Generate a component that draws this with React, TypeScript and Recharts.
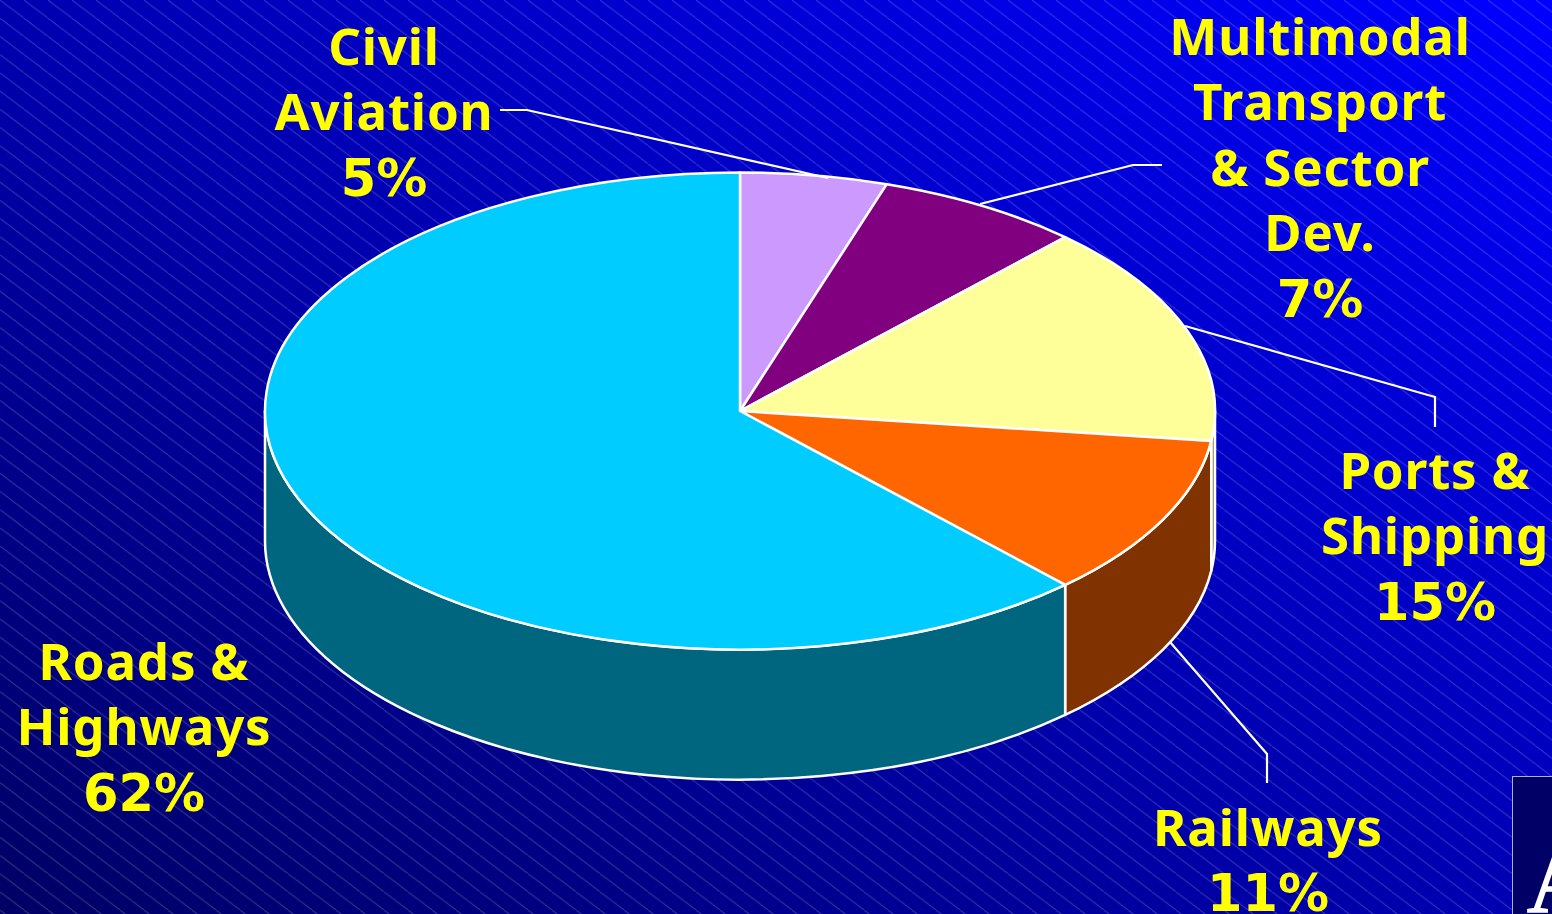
import { Pie, PieChart } from 'recharts';

const categories = ['Civil Aviation', 'Multimodal Transport & Sector Dev.', 'Ports & Shipping', 'Railways', 'Roads & Highways'];
const shares = [5, 7, 15, 11, 62];
const topColors = ['#cc99ff', '#800080', '#ffff99', '#ff6600', '#00ccff'];
const sideColors = ['#664c80', '#400040', '#80804c', '#803300', '#006680'];
const labelRows = [
  ['Civil', 'Aviation'],
  ['Multimodal', 'Transport', '& Sector', 'Dev.'],
  ['Ports &', 'Shipping'],
  ['Railways'],
  ['Roads &', 'Highways'],
];

const WIDTH = 1552;
const HEIGHT = 914;
const CX = 740;
const CY = 411;
const RX = 475;
const RY = 238.5;
const DEPTH = 130;
const ROW = 65.4;

// first baseline and centre of each label, then its leader line
const labelSpots = [
  { x: 384, y: 65, line: '500,110 527,110 828,178' },
  { x: 1320, y: 55, line: '1162,165 1133,165 980,204' },
  { x: 1435, y: 489, line: '1435,427 1435,397 1185,326' },
  { x: 1268, y: 846, line: '1267,783 1267,754 1170,642' },
  { x: 144, y: 680, line: '' },
];

const data = categories.map((name, i) => ({
  name,
  value: shares[i],
  fill: topColors[i],
  side: sideColors[i],
  rows: labelRows[i],
}));

const pt = (a: number, dy = 0) => {
  const r = (a * Math.PI) / 180;
  return `${CX + RX * Math.cos(r)} ${CY + dy - RY * Math.sin(r)}`;
};

const TopSlice = (props: any) => {
  const { startAngle, endAngle, fill } = props;
  const large = startAngle - endAngle > 180 ? 1 : 0;
  return (
    <path
      d={`M ${CX} ${CY} L ${pt(startAngle)} A ${RX} ${RY} 0 ${large} 1 ${pt(endAngle)} Z`}
      fill={fill}
      stroke="#fff"
      strokeWidth={2.5}
      strokeLinejoin="round"
    />
  );
};

// wall under the front half of the pie only
const SideSlice = (props: any) => {
  const { startAngle, endAngle, payload } = props;
  const hi = Math.min(startAngle, 0);
  const lo = Math.max(endAngle, -180);
  if (hi <= lo) return <g />;
  return (
    <path
      d={`M ${pt(hi)} A ${RX} ${RY} 0 0 1 ${pt(lo)} L ${pt(lo, DEPTH)} A ${RX} ${RY} 0 0 0 ${pt(hi, DEPTH)} Z`}
      fill={payload.side}
      stroke="#fff"
      strokeWidth={2.5}
      strokeLinejoin="round"
    />
  );
};

const SliceLabel = (props: any) => {
  const { index, value, payload } = props;
  const spot = labelSpots[index];
  const rows: string[] = payload.rows;
  const textProps = { textAnchor: 'middle' as const, fill: '#ffff00', fontWeight: 700, fontSize: 51 };
  return (
    <g>
      {spot.line && <polyline points={spot.line} fill="none" stroke="#fff" strokeWidth={2.2} />}
      {rows.map((row, i) => (
        <text key={row} x={spot.x} y={spot.y + i * ROW} fontFamily="'Noto Sans', sans-serif" letterSpacing={0.8} {...textProps}>
          {row}
        </text>
      ))}
      <text x={spot.x} y={spot.y + rows.length * ROW} fontFamily="'DejaVu Sans', sans-serif" {...textProps}>
        {`${value}%`}
      </text>
    </g>
  );
};

const Backdrop = () => (
  <svg width={WIDTH} height={HEIGHT} style={{ position: 'absolute', left: 0, top: 0 }}>
    <defs>
      <linearGradient id="bg" gradientUnits="userSpaceOnUse" x1={0} y1={914} x2={830} y2={-442}>
        <stop offset="0" stopColor="#000064" />
        <stop offset="1" stopColor="#0000ff" />
      </linearGradient>
      <pattern id="stripes" patternUnits="userSpaceOnUse" width={24} height={18.2}>
        <line x1={0} y1={0} x2={24} y2={18.2} stroke="#fff" strokeOpacity={0.2} strokeWidth={1} />
      </pattern>
    </defs>
    <rect width={WIDTH} height={HEIGHT} fill="url(#bg)" />
    <rect width={WIDTH} height={HEIGHT} fill="url(#stripes)" />
    <rect x={1512.5} y={776.5} width={60} height={160} fill="#000066" stroke="#b0b0c8" strokeWidth={1} />
    <text x={1527} y={912} fill="#fff" stroke="#fff" strokeWidth={1.5} fontFamily="'Liberation Serif', serif" fontSize={90}>
      A
    </text>
  </svg>
);

export default function App() {
  return (
    <div style={{ position: 'absolute', left: 0, top: 0, width: WIDTH, height: HEIGHT, overflow: 'hidden' }}>
      <Backdrop />
      <div style={{ position: 'absolute', left: 0, top: 0 }}>
        <PieChart width={WIDTH} height={HEIGHT} margin={{ top: 0, right: 0, bottom: 0, left: 0 }}>
          <Pie
            data={data}
            dataKey="value"
            nameKey="name"
            cx={CX}
            cy={CY}
            outerRadius={RX}
            startAngle={90}
            endAngle={-270}
            shape={SideSlice}
            isAnimationActive={false}
          />
          <Pie
            data={data}
            dataKey="value"
            nameKey="name"
            cx={CX}
            cy={CY}
            outerRadius={RX}
            startAngle={90}
            endAngle={-270}
            shape={TopSlice}
            label={SliceLabel}
            labelLine={false}
            isAnimationActive={false}
          />
        </PieChart>
      </div>
    </div>
  );
}
